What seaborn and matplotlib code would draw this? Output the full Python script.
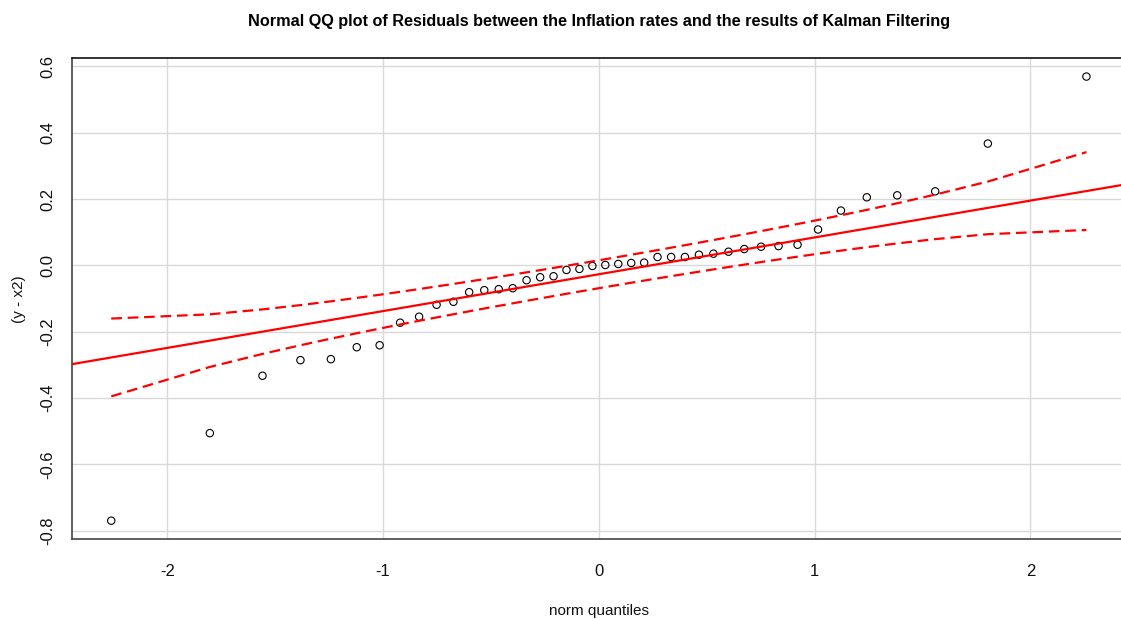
import math
from statistics import NormalDist
import matplotlib
matplotlib.use('Agg')
import matplotlib.pyplot as plt
from matplotlib import font_manager
import seaborn as sns

# theoretical normal quantiles, ppoints(42)
norm_quantiles = [-2.260, -1.803, -1.559, -1.383, -1.242, -1.122, -1.016, -0.921,
                  -0.833, -0.752, -0.674, -0.601, -0.531, -0.464, -0.399, -0.335,
                  -0.272, -0.210, -0.150, -0.090, -0.030, 0.030, 0.090, 0.150,
                  0.210, 0.272, 0.335, 0.399, 0.464, 0.531, 0.601, 0.674, 0.752,
                  0.833, 0.921, 1.016, 1.122, 1.242, 1.383, 1.559, 1.803, 2.260]

# sorted residuals (y - x2)
residuals = [-0.770, -0.506, -0.333, -0.286, -0.283, -0.247, -0.241, -0.173,
             -0.155, -0.119, -0.110, -0.081, -0.075, -0.072, -0.069, -0.045,
             -0.036, -0.033, -0.014, -0.011, -0.002, 0.001, 0.004, 0.007,
             0.008, 0.025, 0.025, 0.025, 0.032, 0.035, 0.041, 0.049, 0.056,
             0.058, 0.062, 0.108, 0.165, 0.205, 0.211, 0.223, 0.367, 0.569]

# reference line (robust fit)
line_intercept = -0.027
line_slope = 0.111
conf_level = 0.95

x_ticks = [-2, -1, 0, 1, 2]
y_ticks = [-0.8, -0.6, -0.4, -0.2, 0.0, 0.2, 0.4, 0.6]

# pointwise confidence envelope, same way car::qqPlot does it
n = len(residuals)
zz = NormalDist().inv_cdf(1 - (1 - conf_level) / 2)
upper, lower = [], []
for i, z in enumerate(norm_quantiles):
    p = (i + 1 - 0.5) / n
    dens = math.exp(-z * z / 2) / math.sqrt(2 * math.pi)
    se = (line_slope / dens) * math.sqrt(p * (1 - p) / n)
    f = line_intercept + line_slope * z
    upper.append(f + zz * se)
    lower.append(f - zz * se)

sns.set_style("white")
installed = {f.name for f in font_manager.fontManager.ttflist}
narrow = 'Liberation Sans Narrow' if 'Liberation Sans Narrow' in installed else 'Liberation Sans'
plt.rcParams['font.family'] = ['Liberation Sans', 'DejaVu Sans']

fig = plt.figure(figsize=(11.21, 6.19), dpi=100)
ax = fig.add_axes([0.0642, 0.1288, 0.940, 0.7767])

for t in x_ticks:
    ax.axvline(t, color='#d9d9d9', lw=1.0, zorder=0)
for t in y_ticks:
    ax.axhline(t, color='#d9d9d9', lw=1.0, zorder=0)

sns.scatterplot(x=norm_quantiles, y=residuals, ax=ax, marker='o', s=28,
                facecolor='none', edgecolor='black', linewidth=0.8, zorder=2)

ax.axline((0, line_intercept), slope=line_slope, color='red', lw=1.6, zorder=3)
for band in (upper, lower):
    sns.lineplot(x=norm_quantiles, y=band, ax=ax, color='red', lw=1.6,
                 sort=False, zorder=3)
for ln in ax.lines[-2:]:
    ln.set_dashes((4.8, 2.6))

ax.set_xlim(-2.442, 2.442)
ax.set_ylim(-0.826, 0.6235)
ax.set_xticks(x_ticks)
ax.set_xticklabels([str(t) for t in x_ticks])
ax.set_yticks(y_ticks)
ax.set_yticklabels([f"{t:.1f}" for t in y_ticks], rotation=90, va='center')
ax.tick_params(axis='both', direction='out', length=6, width=1, color='#333333',
               labelsize=12, labelcolor='#111111')
ax.tick_params(axis='x', pad=12)
ax.tick_params(axis='y', pad=6)

for s in ax.spines.values():
    s.set_color('#444444')
    s.set_linewidth(1.2)
ax.spines['top'].set_color('#111111')

ax.set_xlabel("norm quantiles", fontsize=11, family=narrow, color='#111111', labelpad=18)
ax.set_ylabel("(y - x2)", fontsize=11, color='#111111', labelpad=10)
fig.text(0.534, 0.966, "Normal QQ plot of Residuals between the Inflation rates and the results of Kalman Filtering",
         ha='center', va='center', fontsize=11.7, fontweight='bold', family=narrow, color='black')

plt.savefig("out.png", dpi=100)
